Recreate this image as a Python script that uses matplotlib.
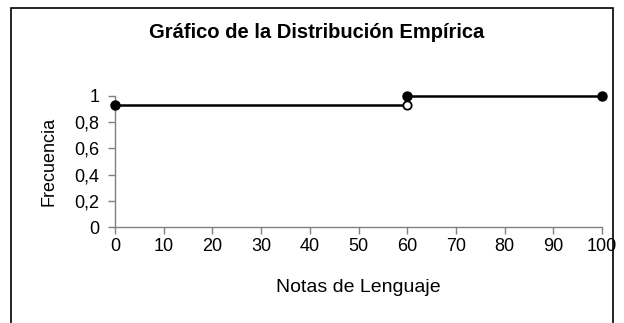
import matplotlib
matplotlib.use("Agg")
import matplotlib.pyplot as plt
from matplotlib.patches import Rectangle
from matplotlib.ticker import FuncFormatter

# empirical distribution of the language grades
notas = [0, 60, 100]
frecuencia = [14 / 15, 1.0, 1.0]
x_ticks = [0, 10, 20, 30, 40, 50, 60, 70, 80, 90, 100]
y_ticks = [0, 0.2, 0.4, 0.6, 0.8, 1]

plt.rcParams['font.family'] = ['Liberation Sans', 'DejaVu Sans']

fig = plt.figure(figsize=(6.24, 3.23), dpi=100)
ax = fig.add_axes([115 / 624, 96 / 323, 487 / 624, 131 / 323])

# outer chart border (bottom edge runs off the image)
fig.patches.append(Rectangle((11 / 624, -0.1), 602 / 624, 1.1 - 8 / 323,
                             transform=fig.transFigure, fill=False,
                             edgecolor='black', linewidth=1.2))

# horizontal steps
ax.plot([notas[0], notas[1]], [frecuencia[0], frecuencia[0]], color='black',
        linewidth=1.8, clip_on=False)
ax.plot([notas[1], notas[2]], [frecuencia[1], frecuencia[2]], color='black',
        linewidth=1.8, clip_on=False)

# closed ends
ax.plot(notas, frecuencia, linestyle='none', marker='o', markersize=6.5,
        color='black', clip_on=False, zorder=4)
# open end where the jump happens
ax.plot([notas[1]], [frecuencia[0]], linestyle='none', marker='o', markersize=6,
        markerfacecolor='white', markeredgecolor='black', markeredgewidth=1.3,
        clip_on=False, zorder=4)

ax.set_xlim(0, 100)
ax.set_ylim(0, 1)
ax.set_xticks(x_ticks)
ax.set_yticks(y_ticks)
ax.yaxis.set_major_formatter(FuncFormatter(lambda v, p: ('%g' % v).replace('.', ',')))

for side in ['top', 'right']:
    ax.spines[side].set_visible(False)
for side in ['left', 'bottom']:
    ax.spines[side].set_color('#808080')
    ax.spines[side].set_linewidth(1.0)
ax.tick_params(colors='black', labelsize=13, length=5, width=1.0,
               color='#808080', pad=3)
ax.tick_params(axis='y', pad=6)

ax.set_xlabel('Notas de Lenguaje', fontsize=14, labelpad=17)
ax.set_ylabel('Frecuencia', fontsize=13, labelpad=12)
fig.text(317 / 624, 1 - 33 / 323, 'Gráfico de la Distribución Empírica',
         ha='center', va='center', fontsize=14.5, fontweight='bold')

fig.savefig('out.png', dpi=100)
